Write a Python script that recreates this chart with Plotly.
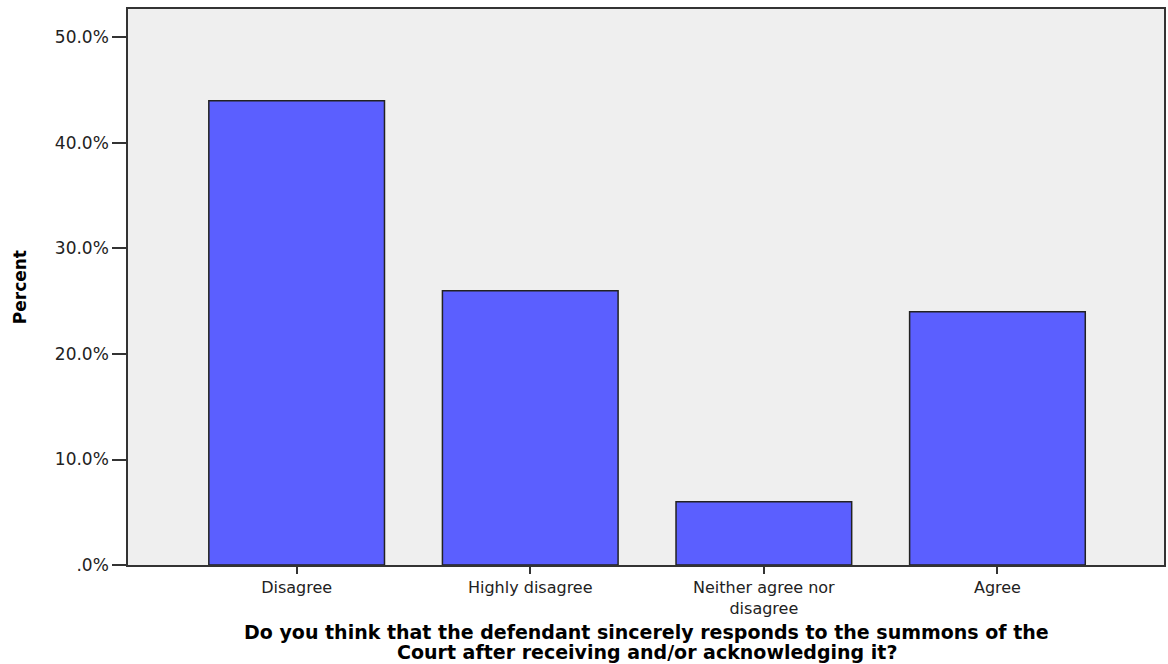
import plotly.graph_objects as go

categories = ["Disagree", "Highly disagree", "Neither agree nor<br>disagree", "Agree"]
percent = [44.0, 26.0, 6.0, 24.0]
y_ticks = [0, 10, 20, 30, 40, 50]
y_tick_labels = [".0%", "10.0%", "20.0%", "30.0%", "40.0%", "50.0%"]
title_lines = ["Do you think that the defendant sincerely responds to the summons of the",
               "Court after receiving and/or acknowledging it?"]
y_title = "Percent"

L, R, T, B = 128, 2, 9, 99
W, H = 1168, 664
pw, ph = W - L - R, H - T - B

fig = go.Figure(go.Bar(
    x=list(range(len(categories))), y=percent,
    width=0.752,
    marker=dict(color="#5B5FFF", line=dict(color="#222222", width=1.5)),
))

fig.update_layout(
    width=W, height=H,
    margin=dict(l=L, r=R, t=T, b=B),
    paper_bgcolor="white", plot_bgcolor="#EFEFEF",
    showlegend=False,
    font=dict(family="DejaVu Sans", size=16, color="#222222"),
)
fig.update_xaxes(
    range=[-0.722, 3.713],
    tickmode="array", tickvals=list(range(len(categories))), ticktext=categories,
    ticks="outside", ticklen=7, tickwidth=1.5, tickcolor="#333333",
    showline=True, linecolor="#333333", linewidth=1.5, mirror=True,
    showgrid=False, zeroline=False,
    tickfont=dict(family="DejaVu Sans", size=16, color="#222222"),
)
fig.update_yaxes(
    range=[0, 52.7],
    tickmode="array", tickvals=y_ticks, ticktext=y_tick_labels,
    ticks="outside", ticklen=14, tickwidth=1.5, tickcolor="#333333",
    showline=True, linecolor="#333333", linewidth=1.5, mirror=True,
    showgrid=False, zeroline=False,
    tickfont=dict(family="DejaVu Sans", size=17, color="#222222"),
)

def px_x(p):
    return (p - L) / pw

def px_y(p):
    return (H - B - p) / ph

fig.add_annotation(text=y_title, xref="paper", yref="paper",
                   x=px_x(20), y=px_y(287), textangle=-90, showarrow=False,
                   xanchor="center", yanchor="middle",
                   font=dict(family="DejaVu Sans", size=17, color="black", weight="bold"))
for line, yc in zip(title_lines, [632, 652]):
    fig.add_annotation(text=line, xref="paper", yref="paper",
                       x=px_x(648), y=px_y(yc), showarrow=False,
                       xanchor="center", yanchor="middle",
                       font=dict(family="DejaVu Sans", size=19, color="black", weight="bold"))

fig.write_html("out.html", config={"displayModeBar": False},
               post_script="document.body.style.margin='0px';")
